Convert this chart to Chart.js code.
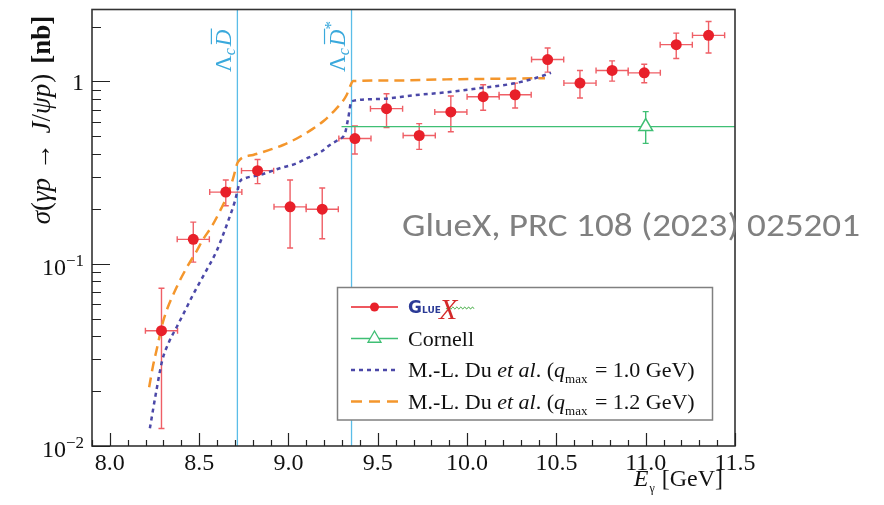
<!DOCTYPE html>
<html><head><meta charset="utf-8">
<script src="https://cdn.jsdelivr.net/npm/chart.js@4.4.0/dist/chart.umd.min.js"></script>
<style>html,body{margin:0;padding:0;background:#fff;} canvas{display:block;}</style>
</head><body>
<canvas id="c" width="884" height="505"></canvas>
<script>
// ---------- data ----------
const gluexE     = [8.289, 8.467, 8.649, 8.827, 9.009, 9.189, 9.372, 9.549, 9.732, 9.909, 10.090, 10.269, 10.451, 10.632, 10.812, 10.992, 11.171, 11.352];
const gluexSigma = [0.0429, 0.136, 0.247, 0.324, 0.205, 0.199, 0.486, 0.709, 0.505, 0.680, 0.824, 0.845, 1.318, 0.979, 1.148, 1.114, 1.591, 1.789];
const gluexUpper = [0.0733, 0.169, 0.288, 0.373, 0.288, 0.260, 0.570, 0.856, 0.587, 0.831, 0.958, 0.979, 1.525, 1.148, 1.296, 1.243, 1.84, 2.13];
const gluexLower = [0.01247, 0.102, 0.208, 0.275, 0.122, 0.137, 0.400, 0.558, 0.424, 0.529, 0.695, 0.715, 1.124, 0.811, 1.004, 0.983, 1.335, 1.432];
const gluexEHalf = [0.09, 0.09, 0.09, 0.09, 0.09, 0.09, 0.09, 0.09, 0.09, 0.09, 0.09, 0.09, 0.09, 0.09, 0.09, 0.09, 0.09, 0.09];

const cornellE = [11.0];
const cornellSigma = [0.565];
const cornellUpper = [0.683];
const cornellLower = [0.457];
const cornellLineE = [9.297, 11.5];
const cornellLineSigma = [0.565, 0.565];

const du10E = [8.224, 8.26, 8.293, 8.33, 8.373, 8.42, 8.467, 8.53, 8.597, 8.635, 8.67, 8.700, 8.716, 8.728, 8.76, 8.840, 8.952, 9.045, 9.101, 9.18, 9.232, 9.28, 9.316, 9.334, 9.353, 9.50, 9.698, 9.90, 10.072, 10.25, 10.38, 10.47];
const du10Sigma = [0.0125, 0.020, 0.0294, 0.037, 0.0447, 0.055, 0.068, 0.088, 0.117, 0.145, 0.180, 0.220, 0.255, 0.282, 0.295, 0.307, 0.334, 0.355, 0.378, 0.410, 0.448, 0.48, 0.518, 0.625, 0.778, 0.80, 0.839, 0.875, 0.919, 0.97, 1.04, 1.114];

const du12E = [8.220, 8.240, 8.261, 8.299, 8.373, 8.43, 8.485, 8.522, 8.57, 8.616, 8.66, 8.690, 8.718, 8.802, 8.890, 8.970, 9.064, 9.138, 9.20, 9.250, 9.295, 9.325, 9.345, 9.362, 9.60, 9.885, 10.20, 10.436];
const du12Sigma = [0.021, 0.027, 0.0334, 0.0486, 0.074, 0.095, 0.117, 0.136, 0.16, 0.194, 0.24, 0.294, 0.363, 0.395, 0.42, 0.448, 0.497, 0.551, 0.61, 0.680, 0.76, 0.839, 0.94, 1.004, 1.012, 1.026, 1.035, 1.042];

const thresholdE = [8.714, 9.353];

const xMajorTicks = [8.0, 8.5, 9.0, 9.5, 10.0, 10.5, 11.0, 11.5];
const xTickLabels = ["8.0", "8.5", "9.0", "9.5", "10.0", "10.5", "11.0", "11.5"];
const yMajorTicks = [0.01, 0.1, 1];
const yTickBase = ["10", "10", "1"];
const yTickExp  = ["\u22122", "\u22121", ""];

const X_MIN = 7.9, X_MAX = 11.5, Y_MIN = 0.01, Y_MAX = 2.48;

// ---------- colors ----------
const RED = '#e8202a', RED_ERR = '#ef5f66', GREEN = '#3fbf74', BLUE = '#4b48a8', ORANGE = '#f4962c', CYAN = '#5bbde8', CYAN_TXT = '#3aa9dc';

const serif = '"Liberation Serif", "DejaVu Serif", serif';
function F(size, style, weight) { return (style || '') + ' ' + (weight || '') + ' ' + size + 'px ' + serif; }

function runsWidth(ctx, runs) {
  let w = 0;
  for (const r of runs) { ctx.font = r.font; w += ctx.measureText(r.t).width + (r.gap || 0); }
  return w;
}
function drawRuns(ctx, runs, x, y) {
  let cx = x;
  for (const r of runs) {
    ctx.font = r.font;
    ctx.fillStyle = r.color || '#111';
    const w = ctx.measureText(r.t).width;
    ctx.fillText(r.t, cx, y + (r.dy || 0));
    if (r.over) {
      ctx.strokeStyle = r.color || '#111';
      ctx.lineWidth = 1.2;
      ctx.beginPath();
      ctx.moveTo(cx + 2, y + (r.dy || 0) - r.over);
      ctx.lineTo(cx + w + 1, y + (r.dy || 0) - r.over);
      ctx.stroke();
    }
    cx += w + (r.gap || 0);
  }
  return cx - x;
}

const pts = (xs, ys) => xs.map((x, i) => ({ x: x, y: ys[i] }));

// ---------- plugins ----------
const backPlugin = {
  id: 'back',
  beforeDatasetsDraw(chart) {
    const ctx = chart.ctx, xs = chart.scales.x, ys = chart.scales.y, a = chart.chartArea;
    ctx.save();
    ctx.strokeStyle = CYAN; ctx.lineWidth = 1.3;
    thresholdE.forEach(e => {
      const px = xs.getPixelForValue(e);
      ctx.beginPath(); ctx.moveTo(px, a.top); ctx.lineTo(px, a.bottom); ctx.stroke();
    });
    function errBar(x, y, lo, hi, xh, color) {
      ctx.strokeStyle = color; ctx.lineWidth = 1.4;
      const px = xs.getPixelForValue(x), py = ys.getPixelForValue(y);
      const pyl = ys.getPixelForValue(lo), pyh = ys.getPixelForValue(hi);
      ctx.beginPath();
      ctx.moveTo(px, Math.min(pyl, a.bottom)); ctx.lineTo(px, pyh);
      if (pyl <= a.bottom) { ctx.moveTo(px - 3, pyl); ctx.lineTo(px + 3, pyl); }
      ctx.moveTo(px - 3, pyh); ctx.lineTo(px + 3, pyh);
      if (xh > 0) {
        const pxl = xs.getPixelForValue(x - xh), pxh = xs.getPixelForValue(x + xh);
        ctx.moveTo(pxl, py); ctx.lineTo(pxh, py);
        ctx.moveTo(pxl, py - 3); ctx.lineTo(pxl, py + 3);
        ctx.moveTo(pxh, py - 3); ctx.lineTo(pxh, py + 3);
      }
      ctx.stroke();
    }
    gluexE.forEach((e, i) => errBar(e, gluexSigma[i], gluexLower[i], gluexUpper[i], gluexEHalf[i], RED_ERR));
    cornellE.forEach((e, i) => errBar(e, cornellSigma[i], cornellLower[i], cornellUpper[i], 0, GREEN));
    ctx.restore();
  }
};

const frontPlugin = {
  id: 'front',
  afterDatasetsDraw(chart) {
    const ctx = chart.ctx, xs = chart.scales.x, ys = chart.scales.y, a = chart.chartArea;
    ctx.save();
    ctx.textBaseline = 'alphabetic';

    // frame
    ctx.strokeStyle = '#333'; ctx.lineWidth = 1.6;
    ctx.strokeRect(a.left, a.top, a.right - a.left, a.bottom - a.top);

    // ticks
    ctx.strokeStyle = '#222'; ctx.lineWidth = 1.2;
    ctx.beginPath();
    for (let k = 0; k <= 36; k++) {
      const v = X_MIN + k * 0.1;
      const major = xMajorTicks.some(m => Math.abs(m - v) < 1e-6);
      const px = Math.round(xs.getPixelForValue(v)) + 0.5;
      ctx.moveTo(px, a.bottom); ctx.lineTo(px, a.bottom - (major ? 13 : 6));
    }
    [0.01, 0.1, 1].forEach(dec => {
      for (let m = 1; m <= 9; m++) {
        const v = dec * m;
        if (v > Y_MAX) continue;
        const py = Math.round(ys.getPixelForValue(v)) + 0.5;
        ctx.moveTo(a.left, py); ctx.lineTo(a.left + (m === 1 ? 18 : 9), py);
      }
    });
    ctx.stroke();

    // tick labels
    ctx.fillStyle = '#111'; ctx.font = F(24); ctx.textAlign = 'center';
    xMajorTicks.forEach((v, i) => ctx.fillText(xTickLabels[i], xs.getPixelForValue(v), 470));
    ctx.textAlign = 'left';
    yMajorTicks.forEach((v, i) => {
      const py = ys.getPixelForValue(v);
      const runs = yTickExp[i]
        ? [{ t: yTickBase[i], font: F(24) }, { t: yTickExp[i], font: F(17), dy: -9 }]
        : [{ t: yTickBase[i], font: F(24) }];
      const w = runsWidth(ctx, runs);
      drawRuns(ctx, runs, 84 - w, py + (yTickExp[i] ? 11 : 9));
    });

    // x title
    const xt = [{ t: 'E', font: F(24, 'italic'), gap: 1 }, { t: '\u03b3', font: F(12), dy: 6, gap: 7 }, { t: '[GeV]', font: F(24) }];
    drawRuns(ctx, xt, 723 - runsWidth(ctx, xt), 486);

    // y title
    const yt = [
      { t: '\u03c3', font: F(27, 'italic') }, { t: '(', font: F(27) },
      { t: '\u03b3p', font: F(27, 'italic'), gap: 1 }, { t: ' \u2192 ', font: F(27), gap: 3 },
      { t: 'J', font: F(27, 'italic') }, { t: '/', font: F(27) }, { t: '\u03c8p', font: F(27, 'italic'), gap: 1 },
      { t: ')', font: F(27), gap: 10 }, { t: '[nb]', font: F(27, '', 'bold') }
    ];
    const ytw = runsWidth(ctx, yt);
    ctx.save(); ctx.translate(50, 120 + ytw / 2); ctx.rotate(-Math.PI / 2);
    drawRuns(ctx, yt, 0, 0); ctx.restore();

    // threshold labels
    const l1 = [{ t: '\u039b', font: F(23), color: CYAN_TXT }, { t: 'c', font: F(16, 'italic'), dy: 4, color: CYAN_TXT, gap: 2 },
                { t: 'D', font: F(23, 'italic'), color: CYAN_TXT, over: 20 }];
    const l2 = l1.concat([{ t: '*', font: F(17), dy: -9, color: CYAN_TXT }]);
    ctx.save(); ctx.translate(xs.getPixelForValue(thresholdE[0]) - 6, 72); ctx.rotate(-Math.PI / 2); drawRuns(ctx, l1, 0, 0); ctx.restore();
    ctx.save(); ctx.translate(xs.getPixelForValue(thresholdE[1]) - 7, 72); ctx.rotate(-Math.PI / 2); drawRuns(ctx, l2, 0, 0); ctx.restore();

    // legend box
    const L = { x: 337.5, y: 287.5, w: 375, h: 132.5 };
    ctx.fillStyle = '#fff'; ctx.fillRect(L.x, L.y, L.w, L.h);
    ctx.strokeStyle = '#808080'; ctx.lineWidth = 1.5; ctx.strokeRect(L.x, L.y, L.w, L.h);
    const rows = [307, 338.5, 370, 401.5];
    const sx0 = 351, sx1 = 398, tx = 408;
    // row 1 GlueX
    ctx.strokeStyle = RED; ctx.lineWidth = 1.3;
    ctx.beginPath(); ctx.moveTo(sx0, rows[0]); ctx.lineTo(sx1, rows[0]); ctx.stroke();
    ctx.fillStyle = RED; ctx.beginPath(); ctx.arc((sx0 + sx1) / 2, rows[0], 4.5, 0, Math.PI * 2); ctx.fill();
    ctx.fillStyle = '#2b3a96';
    ctx.font = 'bold 17px "DejaVu Sans", sans-serif'; ctx.fillText('G', 408, rows[0] + 6);
    ctx.font = 'bold 9px "DejaVu Sans", sans-serif'; ctx.fillText('LUE', 422, rows[0] + 6);
    ctx.strokeStyle = '#5cb85c'; ctx.lineWidth = 1;
    ctx.beginPath();
    for (let k = 0; k <= 28; k++) { const xx = 446 + k; const yy = rows[0] + 1 + Math.sin(k * 1.6) * 1.2; if (k === 0) ctx.moveTo(xx, yy); else ctx.lineTo(xx, yy); }
    ctx.stroke();
    ctx.fillStyle = '#d42a2a'; ctx.font = 'italic 30px ' + serif; ctx.fillText('X', 439, rows[0] + 12);
    // row 2 Cornell
    ctx.strokeStyle = GREEN; ctx.lineWidth = 1.3;
    ctx.beginPath(); ctx.moveTo(sx0, rows[1]); ctx.lineTo(sx1, rows[1]); ctx.stroke();
    const cx = (sx0 + sx1) / 2, r = 7.5;
    ctx.fillStyle = '#fff'; ctx.beginPath();
    ctx.moveTo(cx, rows[1] - r); ctx.lineTo(cx + r * 0.866, rows[1] + r * 0.5); ctx.lineTo(cx - r * 0.866, rows[1] + r * 0.5); ctx.closePath();
    ctx.fill(); ctx.stroke();
    drawRuns(ctx, [{ t: 'Cornell', font: F(22) }], tx, rows[1] + 7);
    [[BLUE, [4, 4], '1.0'], [ORANGE, [11, 7], '1.2']].forEach((s, i) => {
      const y = rows[2 + i];
      ctx.strokeStyle = s[0]; ctx.lineWidth = 2.5; ctx.setLineDash(s[1]);
      ctx.beginPath(); ctx.moveTo(sx0, y); ctx.lineTo(sx1, y); ctx.stroke(); ctx.setLineDash([]);
      drawRuns(ctx, [
        { t: 'M.-L. Du ', font: F(22) }, { t: 'et al', font: F(22, 'italic') }, { t: '. (', font: F(22) },
        { t: 'q', font: F(22, 'italic') }, { t: 'max', font: F(13), dy: 6, gap: 2 },
        { t: ' = ' + s[2] + ' GeV)', font: F(22) }
      ], tx, y + 7);
    });

    // big grey reference text
    ctx.font = '33px "Carlito", "Lato", "Open Sans", sans-serif';
    ctx.fillStyle = '#808080';
    const txt = 'GlueX, PRC 108 (2023) 025201';
    const tw = ctx.measureText(txt).width;
    ctx.save(); ctx.translate(402, 236); ctx.scale(458 / tw, 1); ctx.fillText(txt, 0, 0); ctx.restore();

    ctx.restore();
  }
};

new Chart(document.getElementById('c'), {
  type: 'scatter',
  data: {
    datasets: [
      { label: 'GlueX', data: pts(gluexE, gluexSigma), pointRadius: 5.5, pointHoverRadius: 5.5,
        backgroundColor: RED, borderColor: RED, borderWidth: 0, showLine: false },
      { label: 'Cornell', data: pts(cornellE, cornellSigma), pointStyle: 'triangle', pointRadius: 8,
        backgroundColor: '#fff', borderColor: GREEN, borderWidth: 1.5, showLine: false },
      { label: 'Cornell line', data: pts(cornellLineE, cornellLineSigma), showLine: true, pointRadius: 0,
        borderColor: GREEN, borderWidth: 1.3, fill: false },
      { label: 'Du 1.0', data: pts(du10E, du10Sigma), showLine: true, pointRadius: 0,
        borderColor: BLUE, borderWidth: 2.5, borderDash: [4, 4], cubicInterpolationMode: 'monotone', fill: false },
      { label: 'Du 1.2', data: pts(du12E, du12Sigma), showLine: true, pointRadius: 0,
        borderColor: ORANGE, borderWidth: 2.5, borderDash: [10, 6], cubicInterpolationMode: 'monotone', fill: false }
    ]
  },
  options: {
    responsive: false, animation: false, devicePixelRatio: 1,
    layout: { padding: { left: 92, right: 149, top: 7, bottom: 59 } },
    plugins: { legend: { display: false }, tooltip: { enabled: false } },
    scales: {
      x: { type: 'linear', min: X_MIN, max: X_MAX, display: false },
      y: { type: 'logarithmic', min: Y_MIN, max: Y_MAX, display: false }
    }
  },
  plugins: [backPlugin, frontPlugin]
});
</script>
</body></html>
